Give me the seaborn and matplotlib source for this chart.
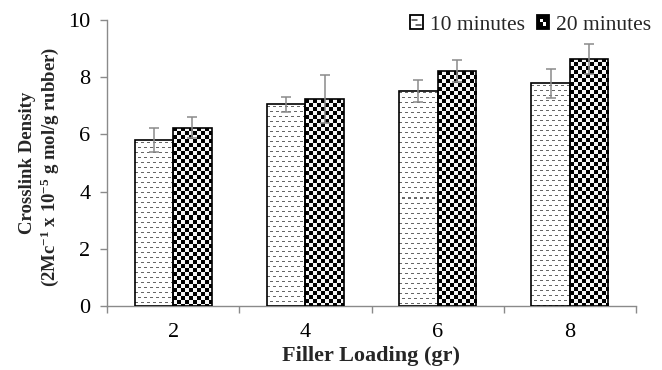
import numpy as np
import pandas as pd
import matplotlib
matplotlib.use("Agg")
import matplotlib.pyplot as plt
import seaborn as sns
from matplotlib.patches import Rectangle
from matplotlib.lines import Line2D
from matplotlib.legend_handler import HandlerBase
from matplotlib.ticker import FixedLocator

# ---- data ----
loading = ["2", "4", "6", "8"]
series = ["10 minutes", "20 minutes"]
t10 = [5.79, 7.05, 7.53, 7.78]
t20 = [6.23, 7.23, 8.21, 8.64]
e10 = [0.42, 0.25, 0.38, 0.51]
e20 = [0.37, 0.83, 0.39, 0.52]
yticks = [0, 2, 4, 6, 8, 10]

df = pd.DataFrame({
    "loading": loading * 2,
    "time": [series[0]] * 4 + [series[1]] * 4,
    "value": t10 + t20,
    "err": e10 + e20,
})

sns.set_theme(style="ticks")
plt.rcParams["font.family"] = ["Liberation Serif", "DejaVu Serif"]
plt.rcParams["mathtext.fontset"] = "custom"
plt.rcParams["mathtext.rm"] = "Liberation Serif:bold"
plt.rcParams["mathtext.it"] = "Liberation Serif:bold"
plt.rcParams["mathtext.bf"] = "Liberation Serif:bold"

DPI = 100
fig = plt.figure(figsize=(6.62, 3.70), dpi=DPI)
ax = fig.add_axes([107 / 662, 1 - 306 / 370, (636 - 107) / 662, (306 - 20) / 370])

sns.barplot(data=df, x="loading", y="value", hue="time", hue_order=series,
            order=loading, errorbar=None, width=0.584, gap=0,
            palette=["white", "white"], edgecolor="black", linewidth=1.2,
            legend=False, ax=ax, zorder=3)

ax.set_xlim(-0.5, len(loading) - 0.5)
ax.set_ylim(0, 10)
fig.canvas.draw()

grey = "#8a8a8a"


def dash_pattern(h, w):
    img = np.ones((h, w, 3))
    for r in range(h):
        if r % 5 == 2:
            off = 0 if (r // 5) % 2 == 0 else 3
            for c in range(w):
                if (c + off) % 6 < 3:
                    img[r, c] = 0.40
    return img


def checker_pattern(h, w, s=4):
    rr, cc = np.mgrid[0:h, 0:w]
    v = ((rr // s + cc // s) % 2).astype(float)
    v = np.where(v > 0.5, 0.97, 0.0)
    img = np.stack([v, v, v], axis=-1)
    return img


patches = list(ax.patches)
n = len(loading)
errs = e10 + e20
for i, p in enumerate(patches):
    x0, y0 = p.get_x(), p.get_y()
    w, h = p.get_width(), p.get_height()
    (px0, py0), (px1, py1) = ax.transData.transform([(x0, y0), (x0 + w, y0 + h)])
    wp, hp = max(int(round(px1 - px0)), 1), max(int(round(py1 - py0)), 1)
    img = dash_pattern(hp, wp) if i < n else checker_pattern(hp, wp)
    im = ax.imshow(img, extent=(x0, x0 + w, y0, y0 + h), origin="upper",
                   interpolation="nearest", aspect="auto", zorder=2.5)
    im.set_clip_path(p)
    p.set_facecolor("none")
    ax.errorbar(x0 + w / 2, y0 + h, yerr=errs[i], fmt="none", ecolor=grey,
                elinewidth=1.1, capsize=3.5, capthick=1.1, zorder=4)

ax.set_xlim(-0.5, len(loading) - 0.5)
ax.set_ylim(0, 10)

# axes styling
for s in ["top", "right"]:
    ax.spines[s].set_visible(False)
for s in ["left", "bottom"]:
    ax.spines[s].set_color(grey)
    ax.spines[s].set_linewidth(1.0)

ax.set_yticks(yticks)
ax.set_yticklabels([str(v) for v in yticks])
ax.tick_params(axis="y", direction="out", length=5, width=1.0, color=grey,
               labelsize=16, pad=7, labelcolor="black")
ax.set_xticks(range(len(loading)))
ax.set_xticklabels(loading)
ax.tick_params(axis="x", which="major", length=0, labelsize=16, pad=12, labelcolor="black")
ax.xaxis.set_minor_locator(FixedLocator(np.arange(-0.5, len(loading), 1.0)))
ax.tick_params(axis="x", which="minor", direction="out", length=5, width=1.0, color=grey)

ax.set_xlabel("Filler Loading (gr)", fontsize=16, fontweight="bold", labelpad=3)
ax.set_ylabel("")

fig.text(27 / 662, 1 - 163 / 370, "Crosslink Density", rotation=90, ha="center",
         va="center", fontsize=13.5, fontweight="bold")
fig.text(50 / 662, 1 - 167 / 370, r"(2Mc$^{-1}$ x 10$^{-5}$ g mol/g rubber)", rotation=90,
         ha="center", va="center", fontsize=13.5, fontweight="bold")


class PatternHandler(HandlerBase):
    def __init__(self, kind):
        super().__init__()
        self.kind = kind

    def create_artists(self, legend, orig_handle, xdescent, ydescent, width, height,
                       fontsize, trans):
        x0, y0 = -xdescent, -ydescent
        arts = []
        if self.kind == "dash":
            arts.append(Rectangle((x0, y0), width, height, facecolor="white",
                                  edgecolor="black", lw=1.3, transform=trans))
            for fy, a, b in [(0.68, 0.15, 0.55), (0.32, 0.45, 0.85)]:
                arts.append(Line2D([x0 + a * width, x0 + b * width],
                                   [y0 + fy * height] * 2, color="#444444", lw=1.1,
                                   transform=trans))
        else:
            arts.append(Rectangle((x0, y0), width, height, facecolor="black",
                                  edgecolor="black", lw=1.3, transform=trans))
            for fx, fy in [(0.25, 0.52), (0.52, 0.25)]:
                arts.append(Rectangle((x0 + fx * width, y0 + fy * height), 0.24 * width,
                                      0.24 * height, facecolor="white", edgecolor="none",
                                      transform=trans))
        return arts


h1 = Rectangle((0, 0), 1, 1)
h2 = Rectangle((0, 0), 1, 1)
leg = fig.legend([h1, h2], series, loc="center right", bbox_to_anchor=(651 / 662, 1 - 25 / 370),
                 ncol=2, frameon=False, fontsize=15.5, handlelength=0.6, handleheight=0.6,
                 handletextpad=0.3, columnspacing=0.55, borderpad=0, borderaxespad=0,
                 handler_map={h1: PatternHandler("dash"), h2: PatternHandler("check")})

fig.savefig("out.png", dpi=DPI)
